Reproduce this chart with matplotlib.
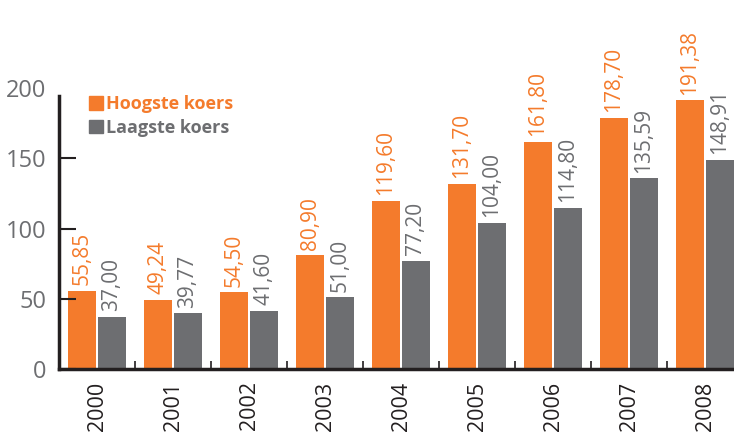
import matplotlib.pyplot as plt
from matplotlib.patches import Patch
import numpy as np

plt.rcParams['font.family'] = ['Open Sans', 'DejaVu Sans']

years = ["2000", "2001", "2002", "2003", "2004", "2005", "2006", "2007", "2008"]
hoogste = [55.85, 49.24, 54.50, 80.90, 119.60, 131.70, 161.80, 178.70, 191.38]
laagste = [37.00, 39.77, 41.60, 51.00, 77.20, 104.00, 114.80, 135.59, 148.91]

orange = "#f47b2c"
grey = "#6d6e71"
dark = "#231f20"

fig = plt.figure(figsize=(7.34, 4.32), dpi=100)
# axes runs a little past the right edge like the original
ax = fig.add_axes([59 / 734, 63 / 432, 684 / 734, 281 / 432])

x = np.arange(len(years))
w = 0.368
off = 0.197
b1 = ax.bar(x - off, hoogste, w, color=orange, clip_on=False)
b2 = ax.bar(x + off, laagste, w, color=grey, clip_on=False)

def fmt(v):
    return f"{v:.2f}".replace(".", ",")

for bars, vals, col in [(b1, hoogste, orange), (b2, laagste, grey)]:
    for rect, v in zip(bars, vals):
        ax.annotate(fmt(v), (rect.get_x() + rect.get_width() / 2, v), xytext=(0, 4),
                    textcoords="offset points", rotation=90, ha="center", va="bottom",
                    color=col, fontsize=15, fontweight="medium", annotation_clip=False)

ax.set_xlim(-0.5, 8.5)
ax.set_ylim(0, 200)
ax.set_yticks([0, 50, 100, 150, 200])
ax.tick_params(axis="y", direction="in", length=12, width=1.5, pad=9,
               labelsize=17, labelcolor=grey, color=dark)
ax.yaxis.get_major_ticks()[-1].tick1line.set_visible(False)

# year labels centred, tick marks between the groups
ax.set_xticks(x)
ax.set_xticklabels(years, rotation=90, fontsize=15.5, color=dark)
ax.tick_params(axis="x", which="major", length=0, pad=9)
ax.set_xticks(x[:-1] + 0.5, minor=True)
ax.tick_params(axis="x", which="minor", direction="in", length=6, width=1.2,
               color=dark)

for s in ["top", "right"]:
    ax.spines[s].set_visible(False)
ax.spines["left"].set_bounds(0, 194)
for s in ["left", "bottom"]:
    ax.spines[s].set_linewidth(2.5)
    ax.spines[s].set_color(dark)

handles = [Patch(color=orange), Patch(color=grey)]
leg = fig.legend(handles, ["Hoogste koers", "Laagste koers"], loc="upper left",
                 bbox_to_anchor=(73 / 734, 1 - 79 / 432), frameon=False,
                 handlelength=0.75, handleheight=0.75, handletextpad=0.15,
                 labelspacing=0.3, prop={"size": 13, "weight": "bold"},
                 labelcolor=[orange, grey])

fig.savefig("out.png", dpi=100)
